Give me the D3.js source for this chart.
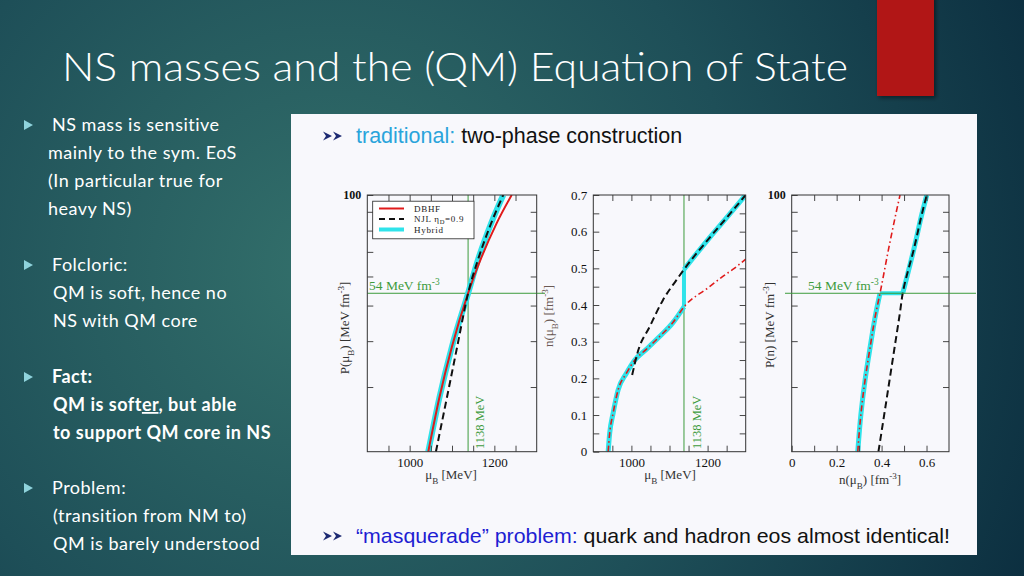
<!DOCTYPE html>
<html><head><meta charset="utf-8"/>
<title>NS masses and the (QM) Equation of State</title>
<script src="https://d3js.org/d3.v7.min.js"></script>
<style>
  body { margin: 0; width: 1024px; height: 576px; overflow: hidden; background: #17404d; }
  svg { display: block; }
</style>
</head><body>
<div id="slide"></div>
<script>
// ---- values ----
// panel 1: pressure P(mu_B) [MeV fm^-3] vs mu_B [MeV]
const pMuDbhf = [[1044, 20], [1070, 28], [1100, 38.7], [1138, 54], [1170, 67.8], [1205, 83.6], [1241, 100]];
const pMuNjl = [[1062, 20], [1080, 25.3], [1096, 31.2], [1112, 38.5], [1138, 54], [1162, 67], [1192, 83.5], [1221, 100]];
const pMuHybrid = [[1044, 20], [1070, 28], [1100, 38.7], [1138, 54], [1162, 67], [1192, 83.5], [1221, 100]];

// panel 2: density n(mu_B) [fm^-3] vs mu_B [MeV]
const nMuDbhf = [[939, 0], [943, 0.05], [952, 0.105], [965, 0.168], [987, 0.214], [1009, 0.25], [1039, 0.279], [1074, 0.314], [1109, 0.352], [1138, 0.395], [1200, 0.446], [1240, 0.478], [1270, 0.5], [1300, 0.525]];
const nMuNjl = [[1002, 0.209], [1017, 0.273], [1048, 0.341], [1083, 0.414], [1118, 0.468], [1138, 0.497], [1200, 0.577], [1250, 0.638], [1300, 0.7]];
const nMuHybridHadron = [[939, 0], [943, 0.05], [952, 0.105], [965, 0.168], [987, 0.214], [1009, 0.25], [1039, 0.279], [1074, 0.314], [1109, 0.352], [1138, 0.395]];
const nMuHybridQuark = [[1138, 0.497], [1200, 0.577], [1250, 0.638], [1300, 0.7]];

// panel 3: pressure P(n) [MeV fm^-3] vs n [fm^-3]
const pnDbhf = [[0.294, 20], [0.308, 25.3], [0.326, 31.2], [0.349, 38.5], [0.374, 47.5], [0.393, 54], [0.433, 72.2], [0.464, 89.1], [0.482, 100]];
const pnNjl = [[0.386, 20], [0.412, 25.3], [0.435, 31.2], [0.458, 38.5], [0.481, 47.5], [0.494, 54], [0.546, 72.2], [0.58, 89.1], [0.601, 100]];
const pnHybridHadron = [[0.294, 20], [0.308, 25.3], [0.326, 31.2], [0.349, 38.5], [0.374, 47.5], [0.393, 54]];
const pnHybridQuark = [[0.494, 54], [0.546, 72.2], [0.58, 89.1], [0.601, 100]];

// transition point
const muTransition = 1138;
const pTransition = 54;

// axes
const muDomain = [900, 1300];
const muTicks = [950, 1000, 1050, 1100, 1150, 1200, 1250];
const muTickLabels = [1000, 1200];
const pDomain = [20, 100];
const pTicks = [30, 40, 50, 60, 70, 80, 90];
const pTickLabels = [100];
const nDomain = [0, 0.7];
const nTicks = [0.05, 0.1, 0.15, 0.2, 0.25, 0.3, 0.35, 0.4, 0.45, 0.5, 0.55, 0.6, 0.65];
const nTickLabels = [0, 0.1, 0.2, 0.3, 0.4, 0.5, 0.6, 0.7];
const densTicks = [0.1, 0.2, 0.3, 0.4, 0.5, 0.6];
const densTickLabels = [0, 0.2, 0.4, 0.6];

const legendItems = ["DBHF", "NJL", "Hybrid"];

// slide text
const bullets = [
  { lines: ["NS mass is sensitive", "mainly to the sym. EoS", "(In particular true for", "heavy NS)"], bold: false },
  { lines: ["Folcloric:", "QM is soft, hence no", "NS with QM core"], bold: false },
  { lines: ["Fact:", "QM is softer, but able", "to support QM core in NS"], bold: true },
  { lines: ["Problem:", "(transition from NM to)", "QM is barely understood"], bold: false }
];

// ---- drawing ----
const W = 1024, H = 576;
const svg = d3.select("#slide").append("svg").attr("width", W).attr("height", H);
const defs = svg.append("defs");

const bg = defs.append("radialGradient").attr("id", "bg")
  .attr("gradientUnits", "userSpaceOnUse").attr("cx", 330).attr("cy", 270).attr("r", 760);
bg.append("stop").attr("offset", "0%").attr("stop-color", "#33706b");
bg.append("stop").attr("offset", "55%").attr("stop-color", "#1e4f58");
bg.append("stop").attr("offset", "100%").attr("stop-color", "#0c2f40");
svg.append("rect").attr("width", W).attr("height", H).attr("fill", "url(#bg)");

const shadow = defs.append("filter").attr("id", "shadow").attr("x", "-20%").attr("y", "-20%").attr("width", "150%").attr("height", "150%");
shadow.append("feDropShadow").attr("dx", 2).attr("dy", 2).attr("stdDeviation", 2).attr("flood-opacity", 0.45);

// red tab top right
svg.append("rect").attr("x", 877).attr("y", -5).attr("width", 57).attr("height", 101)
  .attr("fill", "#b11615").attr("filter", "url(#shadow)");

// title
svg.append("text").attr("x", 62).attr("y", 81)
  .attr("font-family", "Lato, 'Open Sans', sans-serif").attr("font-weight", 300)
  .attr("font-size", 40).attr("fill", "#ffffff")
  .attr("textLength", 786).attr("lengthAdjust", "spacingAndGlyphs")
  .text("NS masses and the (QM) Equation of State");

// bullets
const bulletTops = [125, 265, 377, 488];
const bulletFont = "Lato, 'Open Sans', sans-serif";
bullets.forEach((b, i) => {
  const cy = bulletTops[i];
  svg.append("path")
    .attr("d", `M24,${cy - 5}L33,${cy}L24,${cy + 5}Z`)
    .attr("fill", "#8fd3dc");
  b.lines.forEach((line, j) => {
    const t = svg.append("text")
      .attr("x", j === 0 ? 52 : (i === 0 ? 48 : 53))
      .attr("y", cy + 6 + j * 28)
      .attr("font-family", bulletFont).attr("font-size", 18).attr("letter-spacing", 0.5)
      .attr("font-weight", b.bold ? 700 : 400)
      .attr("fill", "#ffffff");
    if (line.includes("softer")) {
      t.append("tspan").text("QM is soft");
      t.append("tspan").attr("text-decoration", "underline").text("er");
      t.append("tspan").text(", but able");
    } else {
      t.text(line);
    }
  });
});

// white content panel
svg.append("rect").attr("x", 291).attr("y", 114).attr("width", 686).attr("height", 441)
  .attr("fill", "#f8f8fc");

function arrows(x, y) {
  const g = svg.append("g").attr("transform", `translate(${x},${y})`).attr("fill", "#1d2a72");
  [0, 10].forEach(dx => g.append("path").attr("d", `M${dx},-4.5L${dx + 9},0L${dx},4.5L${dx + 3},0Z`));
}
arrows(323, 136);
arrows(323, 536);

const headFont = "'Liberation Sans', Arial, sans-serif";
const top1 = svg.append("text").attr("x", 356).attr("y", 143)
  .attr("font-family", headFont).attr("font-size", 21.5).attr("fill", "#111");
top1.append("tspan").attr("fill", "#2aa4db").text("traditional:");
top1.append("tspan").text(" two-phase construction");

const bot1 = svg.append("text").attr("x", 356).attr("y", 543)
  .attr("font-family", headFont).attr("font-size", 21).attr("fill", "#111")
  .attr("textLength", 594).attr("lengthAdjust", "spacingAndGlyphs");
bot1.append("tspan").attr("fill", "#1e1ed2").text("\u201cmasquerade\u201d problem:");
bot1.append("tspan").text(" quark and hadron eos almost identical!");

// ---- plots ----
const plotFont = "'Liberation Serif', 'DejaVu Serif', serif";
const green = "#3d9b3d";
const red = "#e01b1b";
const cyan = "#2fe3ea";
const plotTop = 195, plotBottom = 451.7;

function frameAxes(o) {
  const x = (o.xLog ? d3.scaleLog() : d3.scaleLinear()).domain(o.xDomain).range([o.left, o.right]);
  const y = (o.yLog ? d3.scaleLog() : d3.scaleLinear()).domain(o.yDomain).range([plotBottom, plotTop]);
  const g = svg.append("g");
  const id = "clip" + o.name;
  defs.append("clipPath").attr("id", id).append("rect")
    .attr("x", o.left).attr("y", plotTop).attr("width", o.right - o.left).attr("height", plotBottom - plotTop);
  const plot = g.append("g").attr("clip-path", `url(#${id})`);

  const fmtX = d => o.xLabels.includes(d) ? d3.format(o.xFmt)(d) : "";
  const fmtY = d => o.yLabels.includes(d) ? d3.format(o.yFmt)(d) : "";
  const xVals = Array.from(new Set(o.xTicks.concat(o.xLabels)));
  const yVals = Array.from(new Set(o.yTicks.concat(o.yLabels)));

  const ax = g.append("g").attr("transform", `translate(0,${plotBottom})`)
    .call(d3.axisBottom(x).tickValues(xVals).tickSize(-6).tickSizeOuter(0).tickPadding(6).tickFormat(fmtX));
  const at = g.append("g").attr("transform", `translate(0,${plotTop})`)
    .call(d3.axisTop(x).tickValues(o.xTicks).tickSize(-6).tickSizeOuter(0).tickFormat(""));
  const ay = g.append("g").attr("transform", `translate(${o.left},0)`)
    .call(d3.axisLeft(y).tickValues(yVals).tickSize(-6).tickSizeOuter(0).tickPadding(6).tickFormat(fmtY));
  const ar = g.append("g").attr("transform", `translate(${o.right},0)`)
    .call(d3.axisRight(y).tickValues(o.yTicks).tickSize(-6).tickSizeOuter(0).tickFormat(""));
  [ax, at, ay, ar].forEach(a => {
    a.select(".domain").remove();
    a.selectAll(".tick line").attr("stroke", "#333").attr("stroke-width", 0.9);
    a.selectAll("text").attr("font-family", plotFont).attr("font-size", 13).attr("fill", "#111");
  });
  if (o.yBold) ay.selectAll("text").attr("font-weight", 700).attr("font-size", 12);

  g.append("rect").attr("x", o.left).attr("y", plotTop).attr("width", o.right - o.left).attr("height", plotBottom - plotTop)
    .attr("fill", "none").attr("stroke", "#333").attr("stroke-width", 1);
  return { g, plot, x, y };
}

function addTitle(g, x, y, rotate, parts, size) {
  const t = g.append("text")
    .attr("transform", `translate(${x},${y})` + (rotate ? " rotate(-90)" : ""))
    .attr("text-anchor", "middle").attr("font-family", plotFont).attr("font-size", size || 13)
    .attr("fill", "#333");
  parts.forEach(p => {
    const s = t.append("tspan").text(p[0]);
    if (p[1] === "sub") s.attr("baseline-shift", "sub").attr("font-size", "70%");
    if (p[1] === "sup") s.attr("baseline-shift", "super").attr("font-size", "70%");
  });
  return t;
}

function curve(plot, x, y, data, color, width, dash, vertical) {
  const line = d3.line().x(d => x(d[0])).y(d => y(d[1]))
    .curve(vertical ? d3.curveMonotoneY : d3.curveMonotoneX);
  plot.append("path").datum(data).attr("d", line)
    .attr("fill", "none").attr("stroke", color).attr("stroke-width", width)
    .attr("stroke-dasharray", dash || null).attr("stroke-linecap", "butt").attr("stroke-linejoin", "round");
}

function jump(plot, x, y, a, b) {
  plot.append("line")
    .attr("x1", x(a[0])).attr("y1", y(a[1])).attr("x2", x(b[0])).attr("y2", y(b[1]))
    .attr("stroke", cyan).attr("stroke-width", 4);
}

// panel 1
const p1 = frameAxes({ name: "a", left: 367.3, right: 536.7, xDomain: muDomain, yDomain: pDomain, yLog: true,
  xTicks: muTicks, xLabels: muTickLabels, xFmt: "d", yTicks: pTicks, yLabels: pTickLabels, yFmt: "d", yBold: true });
p1.plot.append("line").attr("x1", p1.x(muTransition)).attr("x2", p1.x(muTransition)).attr("y1", plotTop).attr("y2", plotBottom)
  .attr("stroke", green).attr("stroke-width", 1);
p1.plot.append("line").attr("x1", 367.3).attr("x2", 536.7).attr("y1", p1.y(pTransition)).attr("y2", p1.y(pTransition))
  .attr("stroke", green).attr("stroke-width", 1);
curve(p1.plot, p1.x, p1.y, pMuHybrid, cyan, 6);
curve(p1.plot, p1.x, p1.y, pMuDbhf, red, 2);
curve(p1.plot, p1.x, p1.y, pMuNjl, "#111", 2, "7,4");
svg.append("line").attr("x1", 536.7).attr("x2", 545).attr("y1", p1.y(pTransition)).attr("y2", p1.y(pTransition))
  .attr("stroke", green).attr("stroke-width", 1);

const lab54a = p1.g.append("text").attr("x", 369).attr("y", p1.y(pTransition) - 3)
  .attr("font-family", plotFont).attr("font-size", 13.5).attr("fill", green);
lab54a.append("tspan").text("54 MeV fm");
lab54a.append("tspan").attr("baseline-shift", "super").attr("font-size", "70%").text("-3");
p1.g.append("text").attr("transform", `translate(${p1.x(muTransition) + 12},449) rotate(-90)`)
  .attr("dy", "0.35em").attr("font-family", plotFont).attr("font-size", 12.5).attr("fill", green)
  .text(muTransition + " MeV");
addTitle(p1.g, 451, 479, false, [["\u03bc"], ["B", "sub"], ["  [MeV]"]]);
addTitle(p1.g, 349, 328, true, [["P(\u03bc"], ["B", "sub"], [")  [MeV fm"], ["-3", "sup"], ["]"]]);

// legend
const lg = p1.g.append("g");
lg.append("rect").attr("x", 372.7).attr("y", 201.2).attr("width", 101.3).attr("height", 37.6)
  .attr("fill", "#fff").attr("stroke", "#222").attr("stroke-width", 0.8);
const legendStyle = [[red, 2, null], ["#111", 2, "6,4"], [cyan, 4, null]];
legendItems.forEach((name, i) => {
  const yy = 208.5 + i * 10.5;
  lg.append("line").attr("x1", 379).attr("x2", 404).attr("y1", yy).attr("y2", yy)
    .attr("stroke", legendStyle[i][0]).attr("stroke-width", legendStyle[i][1]).attr("stroke-dasharray", legendStyle[i][2]);
  const t = lg.append("text").attr("x", 414).attr("y", yy + 3)
    .attr("font-family", plotFont).attr("font-size", 9).attr("letter-spacing", 0.7).attr("fill", "#222");
  if (name === "NJL") {
    t.append("tspan").text("NJL \u03b7");
    t.append("tspan").attr("dy", 1.5).attr("font-size", 6.5).text("D");
    t.append("tspan").attr("dy", -1.5).text("=0.9");
  } else t.text(name);
});

// panel 2
const p2 = frameAxes({ name: "b", left: 593.3, right: 745.7, xDomain: muDomain, yDomain: nDomain,
  xTicks: muTicks, xLabels: muTickLabels, xFmt: "d", yTicks: nTicks, yLabels: nTickLabels, yFmt: "" });
p2.g.selectAll("text").filter(function () { return this.textContent === "0.0"; }).text("0");
p2.plot.append("line").attr("x1", p2.x(muTransition)).attr("x2", p2.x(muTransition)).attr("y1", plotTop).attr("y2", plotBottom)
  .attr("stroke", green).attr("stroke-width", 1);
curve(p2.plot, p2.x, p2.y, nMuHybridHadron, cyan, 5);
jump(p2.plot, p2.x, p2.y, nMuHybridHadron[nMuHybridHadron.length - 1], nMuHybridQuark[0]);
curve(p2.plot, p2.x, p2.y, nMuHybridQuark, cyan, 5);
curve(p2.plot, p2.x, p2.y, nMuDbhf, red, 1.6, "6,3,1.5,3");
curve(p2.plot, p2.x, p2.y, nMuNjl, "#111", 2, "7,4");
p2.g.append("text").attr("transform", `translate(${p2.x(muTransition) + 13},449) rotate(-90)`)
  .attr("dy", "0.35em").attr("font-family", plotFont).attr("font-size", 12.5).attr("fill", green)
  .text(muTransition + " MeV");
addTitle(p2.g, 670, 479, false, [["\u03bc"], ["B", "sub"], ["  [MeV]"]]);
addTitle(p2.g, 553, 316, true, [["n(\u03bc"], ["B", "sub"], [")  [fm"], ["-3", "sup"], ["]"]]).attr("fill", "#6b5a55");

// panel 3
const p3 = frameAxes({ name: "c", left: 791.7, right: 949, xDomain: nDomain, yDomain: pDomain, yLog: true,
  xTicks: densTicks, xLabels: densTickLabels, xFmt: "", yTicks: pTicks, yLabels: pTickLabels, yFmt: "d", yBold: true });
p3.g.selectAll("text").filter(function () { return this.textContent === "0.0"; }).text("0");
svg.append("line").attr("x1", 785).attr("x2", 976).attr("y1", p3.y(pTransition)).attr("y2", p3.y(pTransition))
  .attr("stroke", green).attr("stroke-width", 1);
curve(p3.plot, p3.x, p3.y, pnHybridHadron, cyan, 5, null, true);
jump(p3.plot, p3.x, p3.y, pnHybridHadron[pnHybridHadron.length - 1], pnHybridQuark[0]);
curve(p3.plot, p3.x, p3.y, pnHybridQuark, cyan, 5, null, true);
curve(p3.plot, p3.x, p3.y, pnDbhf, red, 1.6, "6,3,1.5,3", true);
curve(p3.plot, p3.x, p3.y, pnNjl, "#111", 2, "7,4", true);
const lab54c = p3.g.append("text").attr("x", 808).attr("y", p3.y(pTransition) - 3)
  .attr("font-family", plotFont).attr("font-size", 13.5).attr("fill", green);
lab54c.append("tspan").text("54 MeV fm");
lab54c.append("tspan").attr("baseline-shift", "super").attr("font-size", "70%").text("-3");
addTitle(p3.g, 870, 484, false, [["n(\u03bc"], ["B", "sub"], [")   [fm"], ["-3", "sup"], ["]"]]);
addTitle(p3.g, 774, 325, true, [["P(n)  [MeV fm"], ["-3", "sup"], ["]"]]);
</script>
</body></html>
